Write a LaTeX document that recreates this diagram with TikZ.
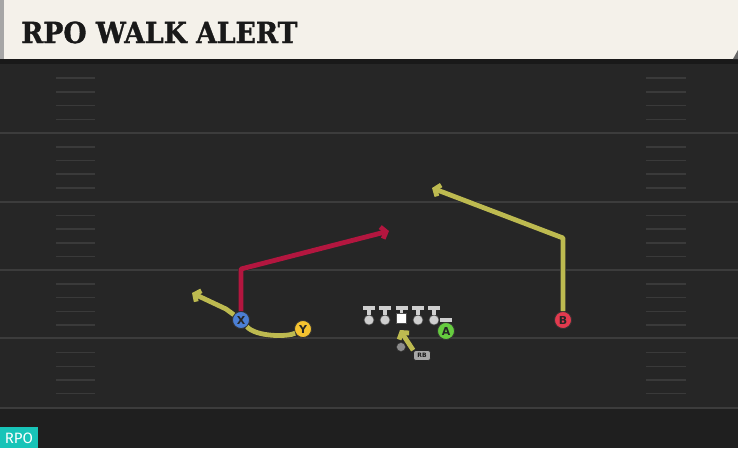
\documentclass[tikz,border=0pt]{standalone}
\usepackage{fontspec}
\usepackage{graphicx}
\usetikzlibrary{arrows.meta}
\newfontfamily\titlefont[FakeBold=1.2]{DejaVu Serif}
\newfontfamily\letterfont{DejaVu Sans}
\newfontfamily\tagfont{Fira Sans}
\definecolor{cream}{HTML}{F4F1EA}
\definecolor{turf}{HTML}{262626}
\definecolor{turfdark}{HTML}{1F1F1F}
\definecolor{yardline}{HTML}{3C3C3C}
\definecolor{hashgrey}{HTML}{3A3A3A}
\definecolor{routeyellow}{HTML}{BDBA50}
\definecolor{routered}{HTML}{B3163F}
\definecolor{xblue}{HTML}{4B7FD4}
\definecolor{yyellow}{HTML}{F5C330}
\definecolor{agreen}{HTML}{66CC3F}
\definecolor{bred}{HTML}{E23A4E}
\definecolor{linegrey}{HTML}{CFCFCF}
\definecolor{rpoteal}{HTML}{18C4B8}
\tikzset{
  player/.style={circle, draw=black!80, line width=0.8pt, minimum size=17pt, inner sep=0pt, font=\letterfont\bfseries\fontsize{11}{11}\selectfont, text=black!85},
  route/.style={line width=4.8pt, line join=round, draw=routeyellow, preaction={draw=black!85, line width=6pt}},
  arrowroute/.style={route, -{Straight Barb[length=4.5pt,width=12pt]}},
  lineman/.style={circle, fill=linegrey, draw=black!70, line width=0.6pt, minimum size=10pt, inner sep=0pt},
  block/.style={line width=3.5pt, draw=linegrey, -{Bar[width=12pt]}},
  hash/.style={line width=1.5pt, draw=hashgrey}
}
\begin{document}
\begin{tikzpicture}[x=1pt, y=-1pt]
\useasboundingbox (0,0) rectangle (738,448);
\fill[turf] (0,59) rectangle (738,448);
\fill[turfdark] (0,408) rectangle (738,448);
\fill[black!90] (0,59) rectangle (738,64);
\fill[cream] (0,0) rectangle (738,59);
\fill[black!35] (0,0) rectangle (4,59);
\fill[black!60] (738,50) -- (738,59) -- (733,59) -- cycle;
\node[anchor=base west, inner sep=0pt, text=black!90] (title) at (21,43) {\scalebox{0.92}[1]{\titlefont\bfseries\fontsize{29}{29}\selectfont RPO WALK ALERT}};
\foreach \y in {133,202,270,338,408}
  \draw[yardline, line width=2pt] (0,\y) -- (738,\y);
\foreach \s in {0,...,4}
  \foreach \k in {1,...,4} {
    \draw[hash] (56,64.5+68.6*\s+13.7*\k) -- (95,64.5+68.6*\s+13.7*\k);
    \draw[hash] (646,64.5+68.6*\s+13.7*\k) -- (686,64.5+68.6*\s+13.7*\k);
  }
\node[player, fill=xblue] (X) at (241,320) {X};
\node[player, fill=yyellow] (Y) at (303,329) {Y};
\node[player, fill=agreen] (A) at (446,331) {A};
\node[player, fill=bred] (B) at (563,320) {B};
\foreach \x [count=\i] in {369,385,418,434} {
  \node[lineman] (ol\i) at (\x,320) {};
  \draw[block] (ol\i.north) -- ++(0,-8.5);
}
\node[rectangle, fill=white, draw=black!70, line width=0.6pt, minimum size=10pt, inner sep=0pt] (center) at (401.5,318.5) {};
\draw[block] (center.north) -- ++(0,-7);
\draw[block] (A.north) -- ++(0,-4);
\node[circle, fill=black!45, draw=black!80, line width=0.5pt, minimum size=9pt, inner sep=0pt] (qb) at (401,347) {};
\node[rectangle, rounded corners=2.5pt, fill=black!35, draw=black!85, line width=0.7pt, minimum width=17pt, minimum height=10pt, inner sep=0pt, font=\letterfont\bfseries\fontsize{6}{6}\selectfont, text=black!90] (rb) at (422,355.5) {RB};
\coordinate (rbend) at (400,330);
\draw[arrowroute] (rb.north west) -- (rbend);
\coordinate (xbreak) at (241,269);
\coordinate (xend) at (389,231);
\draw[arrowroute, draw=routered] (X) -- (xbreak) -- (xend);
\coordinate (bbreak) at (563,238);
\coordinate (bend) at (432,188);
\draw[arrowroute] (B) -- (bbreak) -- (bend);
\coordinate (ymid) at (226,309);
\coordinate (yend) at (192,293);
\draw[route] (Y) .. controls (288,337) and (256,337) .. (X);
\draw[arrowroute] (X) -- (ymid) -- (yend);
\fill[rpoteal] (0,427) rectangle (38,448);
\node[text=white, font=\tagfont\fontsize{15}{15}\selectfont, inner sep=0pt] (tag) at (19,438) {RPO};
\end{tikzpicture}
\end{document}
